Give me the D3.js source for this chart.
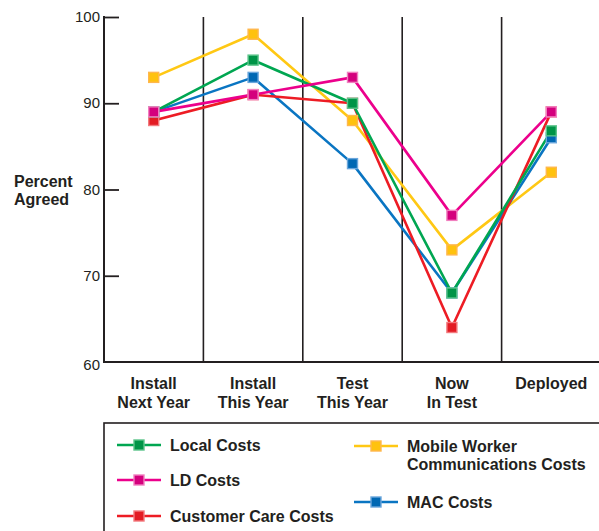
<!doctype html>
<html>
<head>
  <meta charset="utf-8">
  <title>Percent Agreed</title>
  <script src="https://d3js.org/d3.v7.min.js"></script>
  <style>
    body { margin:0; background:#fff; font-family:"Liberation Sans", Arial, sans-serif; }
    svg { display:block }
    .tick-label { font-size:15px; fill:#231f20 }
    .cat { font-size:16px; font-weight:bold; fill:#231f20 }
    .leg { font-size:16px; font-weight:bold; fill:#231f20 }
  </style>
</head>
<body>
  <svg id="chart" width="599" height="531"></svg>
  <script>
    const categories = [["Install","Next Year"],["Install","This Year"],["Test","This Year"],["Now","In Test"],["Deployed"]];
    const yTicks = [60, 70, 80, 90, 100];

    const localCosts    = [89, 95, 90, 68, 86.8];
    const ldCosts       = [89, 91, 93, 77, 89];
    const customerCare  = [88, 91, 90, 64, 89];
    const mobileWorker  = [93, 98, 88, 73, 82];
    const macCosts      = [89, 93, 83, 68, 86];

    // drawing order: bottom first
    const series = [
      { name:["Mobile Worker","Communications Costs"], values:mobileWorker, line:"#ffc814", fill:"#ffc20e", edge:"#ffb74d" },
      { name:["MAC Costs"], values:macCosts, line:"#0a75c2", fill:"#0068b3", edge:"#6aa6dc" },
      { name:["Customer Care Costs"], values:customerCare, line:"#ed1c24", fill:"#e31b23", edge:"#f27a7e" },
      { name:["Local Costs"], values:localCosts, line:"#00a651", fill:"#009447", edge:"#5cc48a" },
      { name:["LD Costs"], values:ldCosts, line:"#ec008c", fill:"#d4007d", edge:"#f17fbf" }
    ];

    const svg = d3.select("#chart");
    const plotL = 104, plotR = 601, plotT = 17, plotB = 362;

    const x = d3.scaleBand().domain(d3.range(categories.length)).range([plotL, plotR]);
    const y = d3.scaleLinear().domain([60, 100]).range([plotB, plotT]);

    // column dividers
    svg.selectAll(".divider")
      .data(d3.range(1, categories.length))
      .enter().append("line")
      .attr("x1", d => x(d)).attr("x2", d => x(d))
      .attr("y1", plotT).attr("y2", plotB)
      .attr("stroke", "#231f20").attr("stroke-width", 1.6);

    // y axis
    const yAxis = d3.axisRight(y).tickValues(yTicks.slice(1)).tickSize(15).tickFormat("");
    const ga = svg.append("g").attr("transform", `translate(${plotL},0)`).call(yAxis);
    ga.select(".domain").remove();
    ga.selectAll(".tick line").attr("stroke", "#231f20").attr("stroke-width", 1.8);

    svg.append("line")
      .attr("x1", plotL).attr("x2", plotL).attr("y1", plotT - 1).attr("y2", plotB)
      .attr("stroke", "#231f20").attr("stroke-width", 2);
    svg.append("line")
      .attr("x1", plotL - 1).attr("x2", plotR).attr("y1", plotB).attr("y2", plotB)
      .attr("stroke", "#231f20").attr("stroke-width", 2);

    svg.selectAll(".tick-label")
      .data(yTicks)
      .enter().append("text")
      .attr("class", "tick-label")
      .attr("x", plotL - 4)
      .attr("y", d => y(d) + (d === 60 ? 8 : 5))
      .attr("text-anchor", "end")
      .text(d => d);

    svg.append("text").attr("class", "cat").attr("x", 14).attr("y", 187).text("Percent");
    svg.append("text").attr("class", "cat").attr("x", 14).attr("y", 205).text("Agreed");

    // category labels
    categories.forEach((lines, i) => {
      lines.forEach((t, j) => {
        svg.append("text")
          .attr("class", "cat")
          .attr("x", x(i) + x.bandwidth() / 2)
          .attr("y", 389 + j * 19)
          .attr("text-anchor", "middle")
          .text(t);
      });
    });

    const cx = i => x(i) + x.bandwidth() / 2;
    const line = d3.line().x((d, i) => cx(i)).y(d => y(d));

    series.forEach(s => {
      svg.append("path")
        .attr("d", line(s.values))
        .attr("fill", "none")
        .attr("stroke", s.line)
        .attr("stroke-width", 2.6)
        .attr("stroke-linejoin", "round");
    });
    series.forEach(s => {
      svg.selectAll(null)
        .data(s.values)
        .enter().append("rect")
        .attr("x", (d, i) => cx(i) - 5)
        .attr("y", d => y(d) - 5)
        .attr("width", 10).attr("height", 10)
        .attr("fill", s.fill)
        .attr("stroke", s.edge)
        .attr("stroke-width", 1.4);
    });

    // legend
    svg.append("rect")
      .attr("x", 104).attr("y", 423).attr("width", 520).attr("height", 140)
      .attr("fill", "none").attr("stroke", "#231f20").attr("stroke-width", 1.6);

    const legendPos = {
      "Local Costs": [117, 445],
      "LD Costs": [117, 480],
      "Customer Care Costs": [117, 516],
      "Mobile Worker": [354, 446],
      "MAC Costs": [354, 502]
    };
    series.forEach(s => {
      const [lx, ly] = legendPos[s.name[0]];
      svg.append("line")
        .attr("x1", lx).attr("x2", lx + 44).attr("y1", ly).attr("y2", ly)
        .attr("stroke", s.line).attr("stroke-width", 2.6);
      svg.append("rect")
        .attr("x", lx + 17).attr("y", ly - 5).attr("width", 10).attr("height", 10)
        .attr("fill", s.fill).attr("stroke", s.edge).attr("stroke-width", 1.4);
      s.name.forEach((t, j) => {
        svg.append("text")
          .attr("class", "leg")
          .attr("x", lx + 53)
          .attr("y", ly + 6 + j * 18)
          .text(t);
      });
    });
  </script>
</body>
</html>
